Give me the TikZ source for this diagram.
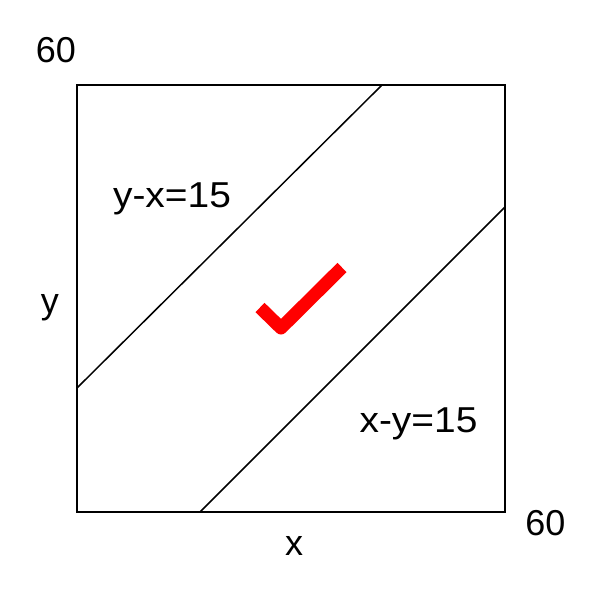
\documentclass[tikz,border=0pt]{standalone}
\usepackage{fontspec}
\usepackage{graphicx}
\setmainfont{Liberation Sans}
\begin{document}
\begin{tikzpicture}[x=1pt,y=-1pt,
  lbl/.style={anchor=base,inner sep=0pt,font=\fontsize{36}{36}\selectfont},
  frame/.style={draw=black,line width=2pt},
  diag/.style={draw=black,line width=1.5pt},
  tick/.style={draw=red,line width=13pt,line join=round}]
\useasboundingbox (0,0) rectangle (598,592);
\coordinate (bl) at (77,512);
\coordinate (br) at (505,512);
\coordinate (tr) at (505,85);
\coordinate (tl) at (77,85);
\draw[frame] (bl) -- (br) -- (tr) -- (tl) -- cycle;
\coordinate (a1) at (77,388);
\coordinate (a2) at (382,85);
\coordinate (b1) at (200,512);
\coordinate (b2) at (505,207);
\draw[diag] (a1) -- (a2);
\draw[diag] (b1) -- (b2);
\coordinate (c1) at (260,307.5);
\coordinate (c2) at (281,328);
\coordinate (c3) at (342,267.5);
\draw[tick] (c1) -- (c2) -- (c3);
\node[lbl] (t60) at (56,62.5) {60};
\node[lbl] (tyx) at (172,207) {\scalebox{1.08}[1]{y-x=15}};
\node[lbl] (ty) at (50,313) {y};
\node[lbl] (txy) at (418.5,432.5) {\scalebox{1.08}[1]{x-y=15}};
\node[lbl] (r60) at (545.5,535) {60};
\node[lbl] (tx) at (294,555.5) {x};
\end{tikzpicture}
\end{document}
